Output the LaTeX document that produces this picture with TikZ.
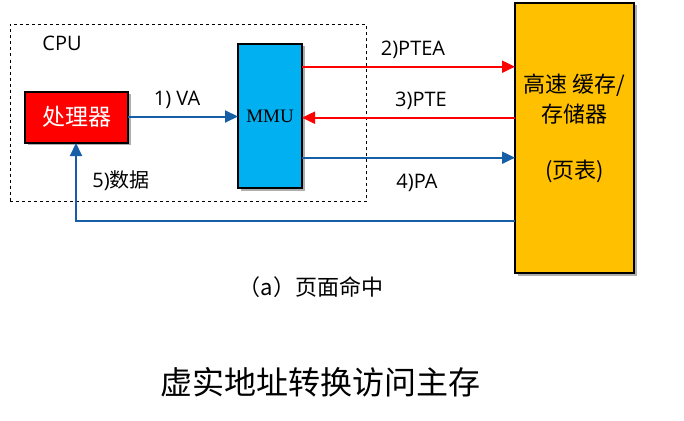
\documentclass[tikz,border=0pt]{standalone}
\usepackage{fontspec}
\setmainfont{Open Sans}
\newfontfamily\cjk{Noto Sans CJK SC}
\newfontfamily\serifmmu{Liberation Serif}
\usetikzlibrary{arrows.meta,shadows}
\definecolor{linkblue}{RGB}{22,94,166}
\definecolor{mmucyan}{RGB}{0,176,240}
\definecolor{memyellow}{RGB}{255,192,0}
\tikzset{
  box/.style={draw=black, line width=2pt, inner sep=0pt,
    drop shadow={shadow xshift=2.5pt, shadow yshift=-2.5pt, fill=black!45, opacity=0.7}},
  redarrow/.style={draw=red, line width=2pt, -{Triangle[length=13pt,width=12pt]}},
  bluearrow/.style={draw=linkblue, line width=2pt, -{Triangle[length=13pt,width=12pt]}},
  lbl/.style={font=\fontsize{20}{24}\selectfont, inner sep=0pt},
}
\begin{document}
\begin{tikzpicture}[x=1pt,y=-1pt]
\useasboundingbox (0,0) rectangle (684,420);
% CPU dashed frame
\node[draw=black, dashed, line width=0.7pt, minimum width=356pt, minimum height=177pt, inner sep=0pt] (cpu) at (188,113) {};
\node[lbl] (cpulbl) at (62,43) {CPU};
% processor
\node[box, fill=red, minimum width=103pt, minimum height=51pt, text=white, font=\cjk\fontsize{23}{26}\selectfont] (proc) at (76.5,117) {处理器};
% MMU
\node[box, fill=mmucyan, minimum width=64pt, minimum height=144pt, font=\serifmmu\fontsize{19}{22}\selectfont] (mmu) at (270,116) {MMU};
% memory
\node[box, fill=memyellow, minimum width=119pt, minimum height=270pt] (mem) at (574.5,138) {};
\node[inner sep=0pt, align=center, font=\cjk\fontsize{22}{30}\selectfont] (memtxt) at (574.5,99) {高速 缓存/\\存储器};
\node[inner sep=0pt, font=\cjk\fontsize{22}{26}\selectfont] (pt) at (574.5,171) {(页表)};
% coordinates
\coordinate (va0) at (128,116.5);
\coordinate (va1) at (238,116.5);
\coordinate (ptea0) at (302,66.7);
\coordinate (ptea1) at (515,66.7);
\coordinate (pte0) at (515,117.7);
\coordinate (pte1) at (302,117.7);
\coordinate (pa0) at (302,157.7);
\coordinate (pa1) at (515,157.7);
\coordinate (d0) at (515,221);
\coordinate (dc) at (76,221);
\coordinate (d1) at (76,143);
% arrows
\draw[bluearrow] (va0) -- (va1);
\draw[redarrow] (ptea0) -- (ptea1);
\draw[redarrow] (pte0) -- (pte1);
\draw[bluearrow] (pa0) -- (pa1);
\draw[bluearrow] (d0) -- (dc) -- (d1);
% labels
\node[lbl] (lva) at (177,100) {1) VA};
\node[lbl] (lptea) at (413,50) {2)PTEA};
\node[lbl] (lpte) at (421,101) {3)PTE};
\node[lbl] (lpa) at (417,183) {4)PA};
\node[lbl] (ldata) at (121,181) {5){\cjk 数据}};
\node[inner sep=0pt, font=\cjk\fontsize{22}{26}\selectfont] (cap) at (311,287) {（a）页面命中};
\node[inner sep=0pt, font=\cjk\fontsize{32}{36}\selectfont] (title) at (320,382) {虚实地址转换访问主存};
\end{tikzpicture}
\end{document}
